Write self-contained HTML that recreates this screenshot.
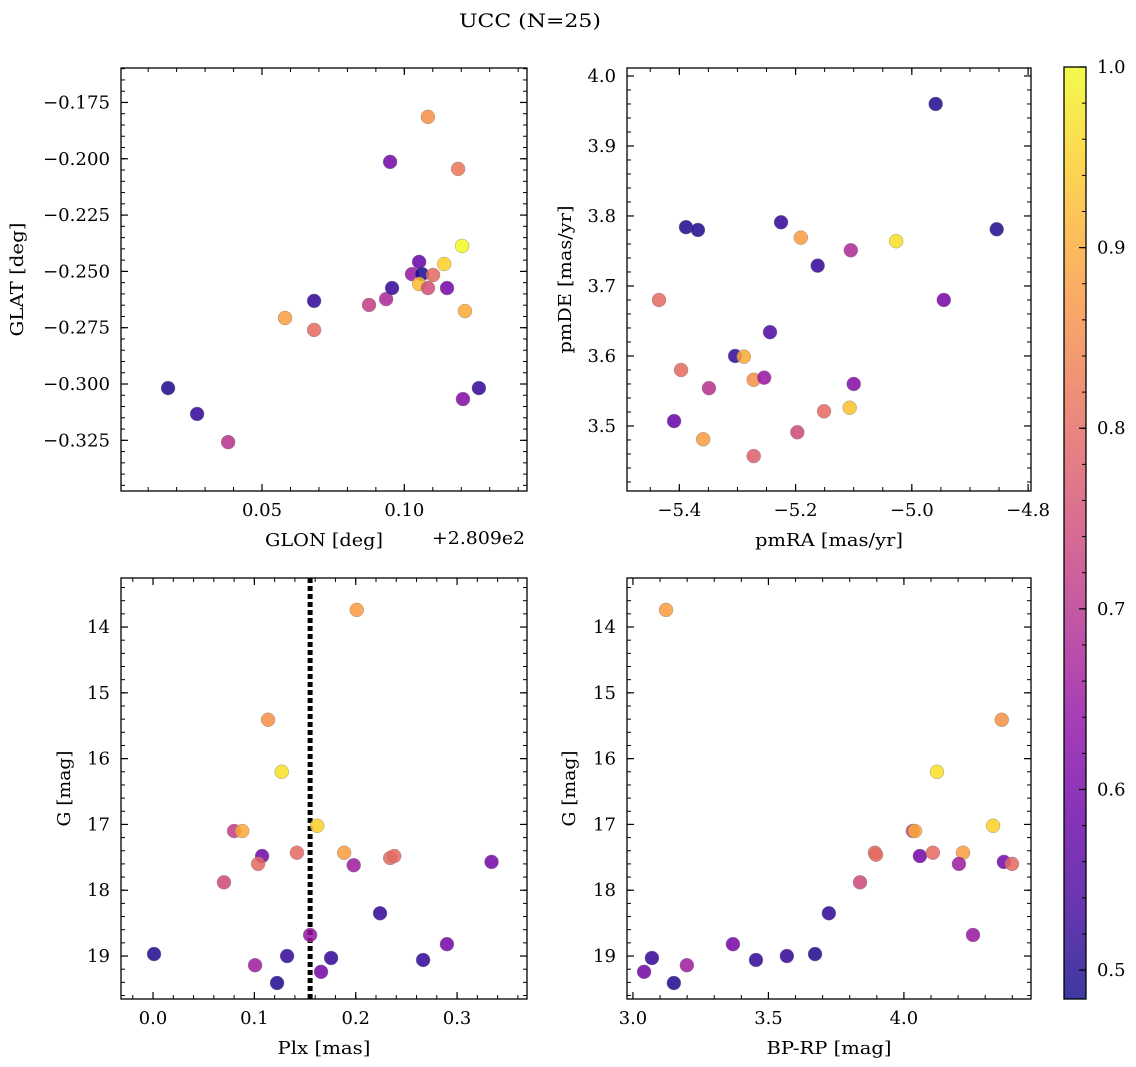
<!DOCTYPE html>
<html><head><meta charset="utf-8"><style>
html,body{margin:0;padding:0;background:#fff}
svg{display:block}
text{font-family:"DejaVu Serif","Liberation Serif",serif;fill:#000}
</style></head><body>
<svg id="fig" width="1136" height="1067" viewBox="0 0 1136 1067" xmlns="http://www.w3.org/2000/svg">
<defs>
<linearGradient id="cbgrad" x1="0" y1="1" x2="0" y2="0">
<stop offset="0" stop-color="#0d0887"/><stop offset="0.1" stop-color="#41049d"/><stop offset="0.2" stop-color="#6a00a8"/><stop offset="0.3" stop-color="#8f0da4"/><stop offset="0.4" stop-color="#b12a90"/><stop offset="0.5" stop-color="#cc4778"/><stop offset="0.6" stop-color="#e16462"/><stop offset="0.7" stop-color="#f2844b"/><stop offset="0.8" stop-color="#fca636"/><stop offset="0.9" stop-color="#fcce25"/><stop offset="1" stop-color="#f0f921"/>
</linearGradient>
</defs>
<text x="530" y="27" font-size="19" text-anchor="middle" textLength="142" lengthAdjust="spacingAndGlyphs">UCC (N=25)</text>
</svg>
<script>
// ---- data ----
const glon = [0.0170,0.0272,0.0381,0.0581,0.0683,0.0683,0.0876,0.0936,0.0950,0.0957,0.1027,0.1052,0.1062,0.1052,0.1083,0.1083,0.1101,0.1140,0.1150,0.1189,0.1203,0.1206,0.1213,0.1262];
const glat = [-0.3018,-0.3133,-0.3258,-0.2707,-0.2631,-0.2760,-0.2649,-0.2623,-0.2014,-0.2574,-0.2512,-0.2458,-0.2512,-0.2556,-0.2574,-0.1814,-0.2516,-0.2467,-0.2574,-0.2045,-0.2387,-0.3067,-0.2676,-0.3018];
const probTL = [0.50,0.52,0.70,0.88,0.52,0.80,0.72,0.68,0.60,0.52,0.65,0.58,0.50,0.92,0.75,0.86,0.80,0.95,0.60,0.82,1.00,0.62,0.90,0.52];

const pmra = [-5.3885,-5.368,-5.435,-5.397,-5.409,-5.349,-5.359,-5.304,-5.289,-5.272,-5.254,-5.244,-5.272,-5.225,-5.191,-5.197,-5.162,-5.151,-5.105,-5.100,-5.107,-5.027,-4.959,-4.945,-4.854];
const pmde = [3.784,3.780,3.680,3.580,3.507,3.554,3.481,3.600,3.599,3.566,3.569,3.634,3.457,3.791,3.769,3.491,3.729,3.521,3.751,3.560,3.526,3.764,3.960,3.680,3.781];
const probTR = [0.50,0.50,0.80,0.80,0.58,0.70,0.88,0.52,0.90,0.86,0.65,0.55,0.78,0.52,0.88,0.74,0.52,0.80,0.68,0.62,0.93,0.97,0.50,0.60,0.50];

const plx = [0.001,0.201,0.1135,0.127,0.080,0.088,0.1076,0.1037,0.070,0.142,0.162,0.1886,0.198,0.234,0.238,0.334,0.224,0.155,0.1007,0.1323,0.1224,0.1658,0.1757,0.2665,0.290];
const gmagL = [18.97,13.74,15.41,16.20,17.10,17.10,17.48,17.60,17.88,17.43,17.02,17.43,17.62,17.51,17.48,17.57,18.35,18.68,19.14,19.00,19.41,19.24,19.03,19.06,18.82];
const probBL = [0.50,0.88,0.86,0.97,0.72,0.90,0.60,0.80,0.74,0.80,0.95,0.88,0.66,0.80,0.80,0.60,0.52,0.65,0.66,0.52,0.50,0.60,0.52,0.52,0.60];
const plxLine = [0.155];

const bprp = [3.122,4.361,4.122,4.033,4.041,4.329,3.893,3.897,4.059,4.107,4.218,4.203,4.369,4.399,3.838,3.723,4.255,3.369,3.672,3.070,3.568,3.454,3.199,3.041,3.151];
const gmagR = [13.74,15.41,16.20,17.10,17.10,17.02,17.43,17.46,17.48,17.43,17.43,17.60,17.57,17.60,17.88,18.35,18.68,18.82,18.97,19.03,19.00,19.06,19.14,19.24,19.41];
const probBR = [0.88,0.86,0.97,0.72,0.90,0.95,0.80,0.80,0.60,0.80,0.88,0.66,0.60,0.80,0.74,0.52,0.65,0.60,0.50,0.52,0.52,0.52,0.66,0.60,0.50];

const ticksTLx = [0.05,0.10], ticksTLxLab = ["0.05","0.10"];
const ticksTLy = [-0.175,-0.200,-0.225,-0.250,-0.275,-0.300,-0.325], ticksTLyLab = ["\u22120.175","\u22120.200","\u22120.225","\u22120.250","\u22120.275","\u22120.300","\u22120.325"];
const ticksTRx = [-5.4,-5.2,-5.0,-4.8], ticksTRxLab = ["\u22125.4","\u22125.2","\u22125.0","\u22124.8"];
const ticksTRy = [3.5,3.6,3.7,3.8,3.9,4.0], ticksTRyLab = ["3.5","3.6","3.7","3.8","3.9","4.0"];
const ticksBLx = [0.0,0.1,0.2,0.3], ticksBLxLab = ["0.0","0.1","0.2","0.3"];
const ticksGy = [14,15,16,17,18,19], ticksGyLab = ["14","15","16","17","18","19"];
const ticksBRx = [3.0,3.5,4.0], ticksBRxLab = ["3.0","3.5","4.0"];
const ticksCb = [0.5,0.6,0.7,0.8,0.9,1.0], ticksCbLab = ["0.5","0.6","0.7","0.8","0.9","1.0"];
const cbMin = 0.484, cbMax = 1.0;

// ---- drawing ----
const NS = "http://www.w3.org/2000/svg";
const fig = document.getElementById('fig');
function mk(tag, attrs, parent){ const e=document.createElementNS(NS,tag); for(const k in attrs) e.setAttribute(k,attrs[k]); (parent||fig).appendChild(e); return e; }
function tickLen(s){ let w=0; for(const ch of s){ w += ch==='.'?5.5:(ch==='\u2212'?15.5:11.5); } return w; }
function txt(parent, s, x, y, size, anchor, len, rot){
  const a={x:x,y:y,'font-size':size,'text-anchor':anchor};
  if(len){ a.textLength=len; a.lengthAdjust='spacingAndGlyphs'; }
  if(rot) a.transform='rotate(-90 '+x+' '+y+')';
  const t=mk('text',a,parent); t.textContent=s; return t;
}
const stops=[[13,8,135],[65,4,157],[106,0,168],[143,13,164],[177,42,144],[204,71,120],[225,100,98],[242,132,75],[252,166,54],[252,206,37],[240,249,33]];
function plasma(v){ let t=(v-cbMin)/(cbMax-cbMin); t=Math.max(0,Math.min(1,t)); const f=t*10; const i=Math.min(9,Math.floor(f)); const r=f-i; const a=stops[i],b=stops[i+1]; return 'rgb('+[0,1,2].map(k=>Math.round(a[k]+(b[k]-a[k])*r)).join(',')+')'; }

function panel(name, box, xd, yd, xt, xtl, yt, ytl, xminor, yminor, xlab, xlabLen, ylab, ylabLen, ylabX){
  const [L,T,R,B]=box;
  const sx=v=>L+(v-xd[0])/(xd[1]-xd[0])*(R-L);
  const sy=v=>B-(v-yd[0])/(yd[1]-yd[0])*(B-T);
  const g=mk('g',{});
  
  
  const lo=Math.min(xd[0],xd[1]), hi=Math.max(xd[0],xd[1]);
  for(let v=Math.ceil(lo/xminor-1e-6)*xminor; v<=hi+1e-9; v+=xminor){ const x=sx(v); mk('line',{x1:x,x2:x,y1:B,y2:B-4,stroke:'#000','stroke-width':1},g); mk('line',{x1:x,x2:x,y1:T,y2:T+4,stroke:'#000','stroke-width':1},g); }
  const ylo=Math.min(yd[0],yd[1]), yhi=Math.max(yd[0],yd[1]);
  for(let v=Math.ceil(ylo/yminor-1e-6)*yminor; v<=yhi+1e-9; v+=yminor){ const y=sy(v); mk('line',{x1:L,x2:L+4,y1:y,y2:y,stroke:'#000','stroke-width':1},g); mk('line',{x1:R,x2:R-4,y1:y,y2:y,stroke:'#000','stroke-width':1},g); }
  xt.forEach((v,i)=>{ const x=sx(v); mk('line',{x1:x,x2:x,y1:B,y2:B-7,stroke:'#000','stroke-width':1.2},g); mk('line',{x1:x,x2:x,y1:T,y2:T+7,stroke:'#000','stroke-width':1.2},g);
    const t=txt(g,xtl[i],x,B+25,18,'middle',tickLen(xtl[i]));
    
     });
  yt.forEach((v,i)=>{ const y=sy(v); mk('line',{x1:L,x2:L+7,y1:y,y2:y,stroke:'#000','stroke-width':1.2},g); mk('line',{x1:R,x2:R-7,y1:y,y2:y,stroke:'#000','stroke-width':1.2},g);
    const t=txt(g,ytl[i],L-11,y+6,18,'end',tickLen(ytl[i]));
    
     });
  mk('rect',{x:L,y:T,width:R-L,height:B-T,fill:'none',stroke:'#000','stroke-width':1.3},g);
  const xl=txt(g,xlab,(L+R)/2,B+55,18,'middle',xlabLen);
  
  
  const yc=(T+B)/2;
  const yl=txt(g,ylab,ylabX,yc,18,'middle',ylabLen,true);
  
  
  return {g,sx,sy};
}
function scatter(p, xs, ys, cs){
  xs.forEach((x,i)=>{ const c=mk('circle',{cx:p.sx(x),cy:p.sy(ys[i]),r:7,fill:plasma(cs[i]),'fill-opacity':0.85,stroke:'#888','stroke-width':0.5,'stroke-opacity':0.8},p.g);
    
     });
}

const tl=panel('panel-glon-glat',[121,68,527,491],[0.00046,0.1431],[-0.3475,-0.1597],ticksTLx,ticksTLxLab,ticksTLy,ticksTLyLab,0.01,0.005,'GLON [deg]',118,'GLAT [deg]',114,23);
scatter(tl,glon,glat,probTL);
const off=txt(fig,'+2.809e2',525,544,18,'end',93);



const tr=panel('panel-pm',[627,68,1031,491],[-5.490,-4.795],[3.4071,4.0114],ticksTRx,ticksTRxLab,ticksTRy,ticksTRyLab,0.05,0.02,'pmRA [mas/yr]',148,'pmDE [mas/yr]',148,571);
scatter(tr,pmra,pmde,probTR);

const bl=panel('panel-plx-g',[121,578,527,999],[-0.0316,0.369],[19.653,13.255],ticksBLx,ticksBLxLab,ticksGy,ticksGyLab,0.02,0.2,'Plx [mas]',93,'G [mag]',76,70);
plxLine.forEach(v=>{ const l=mk('line',{x1:bl.sx(v),x2:bl.sx(v),y1:578,y2:999,stroke:'#000','stroke-width':5,'stroke-dasharray':'5,3'},bl.g);
  
   });
scatter(bl,plx,gmagL,probBL);

const br=panel('panel-color-g',[627,578,1031,999],[2.978,4.469],[19.653,13.255],ticksBRx,ticksBRxLab,ticksGy,ticksGyLab,0.1,0.2,'BP-RP [mag]',125,'G [mag]',76,575);
scatter(br,bprp,gmagR,probBR);

// colorbar
const cb=mk('g',{});


const cT=67,cB=999,cL=1064,cR=1086;
mk('rect',{x:cL,y:cT,width:cR-cL,height:cB-cT,fill:'url(#cbgrad)','fill-opacity':0.8},cb);
const cy=v=>cB-(v-cbMin)/(cbMax-cbMin)*(cB-cT);
for(let v=0.50; v<=1.0001; v+=0.02){ mk('line',{x1:cR,x2:cR-4,y1:cy(v),y2:cy(v),stroke:'#000','stroke-width':1},cb); }
ticksCb.forEach((v,i)=>{ mk('line',{x1:cR,x2:cR-7,y1:cy(v),y2:cy(v),stroke:'#000','stroke-width':1.2},cb);
  const t=txt(cb,ticksCbLab[i],cR+11,cy(v)+6,18,'start',tickLen(ticksCbLab[i]));
  
   });
mk('rect',{x:cL,y:cT,width:cR-cL,height:cB-cT,fill:'none',stroke:'#000','stroke-width':1.3},cb);
</script>
</body></html>
